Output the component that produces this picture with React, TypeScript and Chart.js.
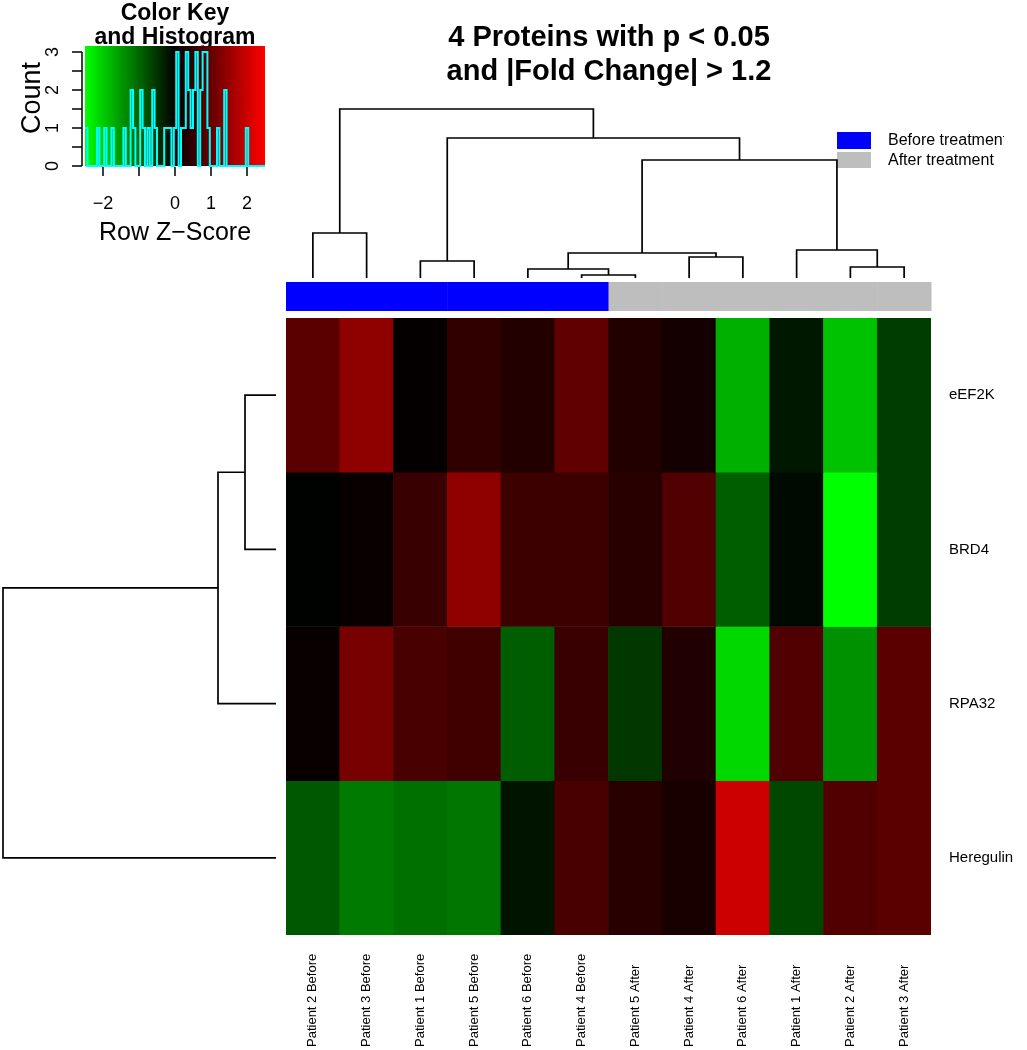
import React, { useEffect, useRef } from "react";
import { Chart, registerables } from "chart.js";
Chart.register(...registerables);

// ---------------- data ----------------
const columnLabels = [
  "Patient 2 Before", "Patient 3 Before", "Patient 1 Before", "Patient 5 Before",
  "Patient 6 Before", "Patient 4 Before", "Patient 5 After", "Patient 4 After",
  "Patient 6 After", "Patient 1 After", "Patient 2 After", "Patient 3 After",
];
const columnGroups = [
  "Before", "Before", "Before", "Before", "Before", "Before",
  "After", "After", "After", "After", "After", "After",
];
const rowLabels = ["eEF2K", "BRD4", "RPA32", "Heregulin"];
// row z-scores, in column order above
const eEF2K = [0.88, 1.4, 0.05, 0.47, 0.33, 0.94, 0.33, 0.2, -1.73, -0.24, -1.9, -0.6];
const BRD4 = [-0.02, 0.08, 0.55, 1.4, 0.59, 0.59, 0.39, 0.78, -0.92, -0.1, -2.5, -0.6];
const RPA32 = [0.08, 1.17, 0.71, 0.63, -0.92, 0.55, -0.55, 0.31, -2.12, 0.78, -1.42, 0.88];
const Heregulin = [-0.86, -1.2, -1.1, -1.17, -0.2, 0.71, 0.39, 0.24, 2.0, -0.7, 0.78, 0.88];

const titleLines = ["4 Proteins with p < 0.05", "and |Fold Change| > 1.2"];
const legendLabels = ["Before treatment", "After treatment"];
const groupColors = { Before: "#0000FF", After: "#BEBEBE" } as Record<string, string>;

const keyTitle = ["Color Key", "and Histogram"];
const keyTicks = [-2, -1, 0, 1, 2];
const keyTickLabels = ["\u22122", "", "0", "1", "2"];
const countTicks = [0, 0.5, 1, 1.5, 2, 2.5, 3];
const countTickLabels = ["0", "", "1", "", "2", "", "3"];
const histBins = 75;

// hclust-style merges: [left, right, height]; negative = leaf (1-based, display order), positive = earlier merge
const colMerges: [number, number, number][] = [
  [-6, -7, 0.03], [-11, -12, 0.11], [-3, -4, 0.17], [-5, 1, 0.09], [-8, -9, 0.21],
  [4, 5, 0.25], [-10, 2, 0.28], [-1, -2, 0.45], [6, 7, 1.18], [3, 9, 1.4], [8, 10, 1.69],
];
const rowMerges: [number, number, number][] = [
  [-1, -2, 0.31], [-3, 1, 0.58], [-4, 2, 2.73],
];

// ---------------- helpers ----------------
const FONT = "'Liberation Sans', Arial, sans-serif";
const rows = [eEF2K, BRD4, RPA32, Heregulin];
const allValues = rows.flat();
const maxAbs = Math.max(...allValues.map((v) => Math.abs(v)));

function zColor(z: number) {
  const t = Math.max(-1, Math.min(1, z / maxAbs));
  return t < 0 ? `rgb(0,${Math.round(-t * 255)},0)` : `rgb(${Math.round(t * 255)},0,0)`;
}

function dendroSegments(merges: [number, number, number][]) {
  const pos: number[] = [];
  const hts: number[] = [];
  const segs: { p: number; h: number }[][] = [];
  merges.forEach(([a, b, h]) => {
    const pa = a < 0 ? -a - 0.5 : pos[a - 1];
    const ha = a < 0 ? 0 : hts[a - 1];
    const pb = b < 0 ? -b - 0.5 : pos[b - 1];
    const hb = b < 0 ? 0 : hts[b - 1];
    segs.push([{ p: pa, h: ha }, { p: pa, h }, { p: pb, h }, { p: pb, h: hb }]);
    pos.push((pa + pb) / 2);
    hts.push(h);
  });
  return segs;
}

// histogram of all z-scores
const binW = (2 * maxAbs) / histBins;
const breaks = Array.from({ length: histBins + 1 }, (_, i) => -maxAbs + i * binW);
const counts = new Array(histBins).fill(0);
allValues.forEach((v) => {
  const idx = Math.min(histBins - 1, Math.max(0, Math.ceil((v + maxAbs) / binW - 1e-9) - 1));
  counts[idx] += 1;
});
const maxCount = Math.max(...counts);

export default function App() {
  const mainRef = useRef<HTMLCanvasElement>(null);
  const colRef = useRef<HTMLCanvasElement>(null);
  const rowRef = useRef<HTMLCanvasElement>(null);
  const keyRef = useRef<HTMLCanvasElement>(null);

  useEffect(() => {
    const charts: Chart[] = [];

    // ---------- main heatmap ----------
    const mainPlugin = {
      id: "mainDecor",
      afterDraw(chart: any) {
        const ctx = chart.ctx as CanvasRenderingContext2D;
        const xs = chart.scales.x;
        const ys = chart.scales.y;
        const ca = chart.chartArea;
        const cw = (ca.right - ca.left) / columnLabels.length;
        ctx.save();
        // title
        ctx.fillStyle = "#000";
        ctx.font = `bold 29px ${FONT}`;
        ctx.textAlign = "center";
        ctx.textBaseline = "middle";
        ctx.fillText(titleLines[0], 609, 38);
        ctx.fillText(titleLines[1], 609, 72);
        // group color bar
        columnGroups.forEach((g, i) => {
          const cx = xs.getPixelForValue(i);
          ctx.fillStyle = groupColors[g];
          ctx.fillRect(cx - cw / 2, 282, cw + 0.5, 29);
        });
        // legend
        ctx.fillStyle = groupColors.Before;
        ctx.fillRect(837, 132, 34, 17);
        ctx.fillStyle = groupColors.After;
        ctx.fillRect(837, 152, 34, 16);
        ctx.save();
        ctx.beginPath();
        ctx.rect(0, 0, 1004, 1050);
        ctx.clip();
        ctx.fillStyle = "#000";
        ctx.font = `16px ${FONT}`;
        ctx.textAlign = "left";
        ctx.fillText(legendLabels[0], 888, 141);
        ctx.fillText(legendLabels[1], 888, 161);
        ctx.restore();
        // row labels
        ctx.fillStyle = "#000";
        ctx.font = `15px ${FONT}`;
        ctx.textAlign = "left";
        ctx.textBaseline = "middle";
        rowLabels.forEach((r, i) => {
          ctx.fillText(r, 949, ys.getPixelForValue(i + 0.5));
        });
        // column labels
        ctx.font = `13px ${FONT}`;
        columnLabels.forEach((c, i) => {
          ctx.save();
          ctx.translate(xs.getPixelForValue(i), 1047);
          ctx.rotate(-Math.PI / 2);
          ctx.textAlign = "left";
          ctx.textBaseline = "middle";
          ctx.fillText(c, 0, 0);
          ctx.restore();
        });
        ctx.restore();
      },
    };
    charts.push(
      new Chart(mainRef.current!, {
        type: "bar",
        data: {
          labels: columnLabels,
          datasets: rows.map((r, ri) => ({
            label: rowLabels[ri],
            data: r.map(() => 1),
            backgroundColor: r.map((z) => zColor(z)),
            borderWidth: 0,
            barPercentage: 1,
            categoryPercentage: 1,
          })),
        },
        options: {
          responsive: false,
          animation: false,
          layout: { padding: { left: 286, top: 318, right: 1027 - 931, bottom: 1050 - 935 } },
          scales: {
            x: { display: false, stacked: true },
            y: { display: false, stacked: true, min: 0, max: rows.length, reverse: true },
          },
          plugins: { legend: { display: false }, tooltip: { enabled: false } },
        },
        plugins: [mainPlugin],
      } as any)
    );

    // ---------- column dendrogram ----------
    const colSegs = dendroSegments(colMerges);
    charts.push(
      new Chart(colRef.current!, {
        type: "scatter",
        data: {
          datasets: colSegs.map((s) => ({
            data: s.map((p) => ({ x: p.p, y: p.h })),
            showLine: true,
            pointRadius: 0,
            borderColor: "#000",
            borderWidth: 1.7,
            clip: false,
          })),
        },
        options: {
          responsive: false,
          animation: false,
          layout: { padding: 0 },
          scales: {
            x: { type: "linear", display: false, min: 0, max: columnLabels.length },
            y: { type: "linear", display: false, min: -0.02, max: 1.78 },
          },
          plugins: { legend: { display: false }, tooltip: { enabled: false } },
        },
      } as any)
    );

    // ---------- row dendrogram ----------
    const rowSegs = dendroSegments(rowMerges);
    charts.push(
      new Chart(rowRef.current!, {
        type: "scatter",
        data: {
          datasets: rowSegs.map((s) => ({
            data: s.map((p) => ({ x: p.h, y: p.p })),
            showLine: true,
            pointRadius: 0,
            borderColor: "#000",
            borderWidth: 1.7,
            clip: false,
          })),
        },
        options: {
          responsive: false,
          animation: false,
          layout: { padding: 0 },
          scales: {
            x: { type: "linear", display: false, min: -0.1, max: 2.76, reverse: true },
            y: { type: "linear", display: false, min: 0, max: rows.length, reverse: true },
          },
          plugins: { legend: { display: false }, tooltip: { enabled: false } },
        },
      } as any)
    );

    // ---------- color key ----------
    const keyPlugin = {
      id: "keyDecor",
      beforeDraw(chart: any) {
        const ctx = chart.ctx as CanvasRenderingContext2D;
        const ca = chart.chartArea;
        ctx.save();
        ctx.fillStyle = "#000";
        ctx.font = `bold 23px ${FONT}`;
        ctx.textAlign = "center";
        ctx.textBaseline = "middle";
        const cx = (ca.left + ca.right) / 2;
        ctx.fillText(keyTitle[0], cx, 14);
        ctx.fillText(keyTitle[1], cx, 38);
        ctx.restore();
      },
      beforeDatasetsDraw(chart: any) {
        const ctx = chart.ctx as CanvasRenderingContext2D;
        const ca = chart.chartArea;
        const xs = chart.scales.x;
        const ys = chart.scales.y;
        ctx.save();
        const g = ctx.createLinearGradient(xs.getPixelForValue(-maxAbs), 0, xs.getPixelForValue(maxAbs), 0);
        g.addColorStop(0, "#00FF00");
        g.addColorStop(0.5, "#000000");
        g.addColorStop(1, "#FF0000");
        ctx.fillStyle = g;
        ctx.fillRect(ca.left, ca.top, ca.right - ca.left, ca.bottom - ca.top);
        // axes
        ctx.strokeStyle = "#000";
        ctx.lineWidth = 1.5;
        ctx.beginPath();
        const yAx = ca.left - 3;
        ctx.moveTo(yAx, ys.getPixelForValue(countTicks[0]));
        ctx.lineTo(yAx, ys.getPixelForValue(countTicks[countTicks.length - 1]));
        countTicks.forEach((t) => {
          const y = ys.getPixelForValue(t);
          ctx.moveTo(yAx, y);
          ctx.lineTo(yAx - 10, y);
        });
        keyTicks.forEach((t) => {
          const x = xs.getPixelForValue(t);
          ctx.moveTo(x, ca.bottom + 1);
          ctx.lineTo(x, ca.bottom + 10);
        });
        ctx.stroke();
        ctx.restore();
      },
      afterDraw(chart: any) {
        const ctx = chart.ctx as CanvasRenderingContext2D;
        const ca = chart.chartArea;
        const xs = chart.scales.x;
        const ys = chart.scales.y;
        ctx.save();
        ctx.fillStyle = "#000";
        ctx.font = `18px ${FONT}`;
        ctx.textAlign = "center";
        ctx.textBaseline = "middle";
        keyTicks.forEach((t, i) => {
          if (keyTickLabels[i]) ctx.fillText(keyTickLabels[i], xs.getPixelForValue(t), 204);
        });
        countTicks.forEach((t, i) => {
          if (!countTickLabels[i]) return;
          ctx.save();
          ctx.translate(53, ys.getPixelForValue(t));
          ctx.rotate(-Math.PI / 2);
          ctx.fillText(countTickLabels[i], 0, 0);
          ctx.restore();
        });
        ctx.font = `25px ${FONT}`;
        ctx.fillText("Row Z\u2212Score", (ca.left + ca.right) / 2, 233);
        ctx.save();
        ctx.font = `27px ${FONT}`;
        ctx.translate(33, 98);
        ctx.rotate(-Math.PI / 2);
        ctx.fillText("Count", 0, 0);
        ctx.restore();
        ctx.restore();
      },
    };
    charts.push(
      new Chart(keyRef.current!, {
        type: "scatter",
        data: {
          datasets: [
            {
              data: breaks.map((b, i) => ({ x: b, y: i < histBins ? counts[i] : counts[histBins - 1] })),
              showLine: true,
              stepped: true,
              pointRadius: 0,
              borderColor: "#00FFFF",
              borderWidth: 2,
              clip: false,
            },
          ],
        },
        options: {
          responsive: false,
          animation: false,
          layout: { padding: { left: 85, top: 46, right: 280 - 265, bottom: 250 - 166 } },
          scales: {
            x: { type: "linear", display: false, min: -maxAbs, max: maxAbs },
            y: { type: "linear", display: false, min: 0, max: maxCount / 0.95 },
          },
          plugins: { legend: { display: false }, tooltip: { enabled: false } },
        },
        plugins: [keyPlugin],
      } as any)
    );

    return () => charts.forEach((c) => c.destroy());
  }, []);

  return (
    <div style={{ position: "absolute", left: 0, top: 0, width: 1027, height: 1050, background: "#fff", overflow: "hidden" }}>
      <canvas ref={mainRef} width={1027} height={1050} style={{ position: "absolute", left: 0, top: 0 }} />
      <canvas ref={colRef} width={645} height={180} style={{ position: "absolute", left: 286, top: 100 }} />
      <canvas ref={rowRef} width={286} height={617} style={{ position: "absolute", left: 0, top: 318 }} />
      <canvas ref={keyRef} width={280} height={250} style={{ position: "absolute", left: 0, top: 0 }} />
    </div>
  );
}
